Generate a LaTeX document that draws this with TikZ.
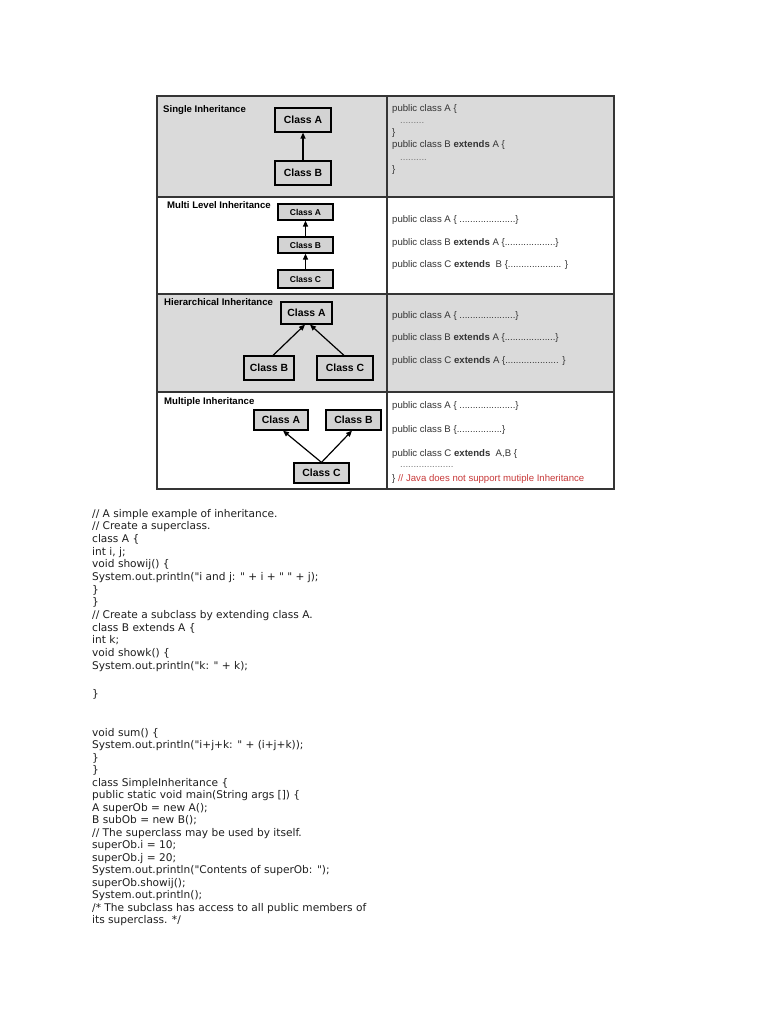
\documentclass[tikz,border=0pt]{standalone}
\usepackage{fontspec}
\setmainfont{Liberation Sans}
\newfontfamily\codefont{DejaVu Sans}
\usetikzlibrary{arrows.meta,calc}
\definecolor{rowgray}{HTML}{DADADA}
\definecolor{boxgray}{HTML}{D3D3D3}
\definecolor{framecol}{HTML}{353535}
\definecolor{txt}{HTML}{333333}
\definecolor{dotcol}{HTML}{777777}
\definecolor{warn}{HTML}{C83A3A}
\definecolor{codetxt}{HTML}{1E1E1E}
\begin{document}
\begin{tikzpicture}[x=1pt,y=-1pt,
  cls/.style={draw=black,line width=1.2pt,fill=boxgray,font=\bfseries\fontsize{10.4}{12}\selectfont,inner sep=0pt},
  clss/.style={cls,font=\bfseries\fontsize{8.5}{10}\selectfont},
  inh/.style={line width=1.2pt,-{Triangle[length=6pt,width=5pt]}},
  lab/.style={font=\bfseries\fontsize{9.6}{11}\selectfont,anchor=base west,inner sep=0pt},
  src/.style={font=\fontsize{9.6}{11}\selectfont,text=txt,anchor=base west,inner sep=0pt},
  dotline/.style={font=\fontsize{9.6}{11}\selectfont,text=dotcol,anchor=base west,inner sep=0pt},
  code/.style={font=\codefont\fontsize{10.6}{12.6}\selectfont,text=codetxt,anchor=base west,inner sep=0pt}]
\useasboundingbox (0,0) rectangle (768,1024);
\fill[white] (0,0) rectangle (768,1024);

% table
\fill[rowgray] (157,96) rectangle (614,197);
\fill[rowgray] (157,294) rectangle (614,392);
\draw[framecol,line width=1.4pt] (157,96) rectangle (614,489);
\draw[framecol,line width=1.4pt] (157,197) -- (614,197) (157,294) -- (614,294) (157,392) -- (614,392) (387,96) -- (387,489);

% row 1
\node[lab] (l1) at (163,112.5) {Single Inheritance};
\node[cls,minimum width=56pt,minimum height=24pt] (s1A) at (303,120) {Class A};
\node[cls,minimum width=56pt,minimum height=24pt] (s1B) at (303,173) {Class B};
\draw[inh] (s1B) -- (s1A);
\node[src] (r1a) at (392,112) {public class A \{};
\node[dotline] (r1b) at (400,124) {.........};
\node[src] (r1c) at (392,135.5) {\}};
\node[src] (r1d) at (392,148) {public class B \textbf{extends} A \{};
\node[dotline] (r1e) at (400,161) {..........};
\node[src] (r1f) at (392,173) {\}};

% row 2
\node[lab] (l2) at (167,208.5) {Multi Level Inheritance};
\node[clss,minimum width=55pt,minimum height=16pt] (m2A) at (305.5,212) {Class A};
\node[clss,minimum width=55pt,minimum height=16pt] (m2B) at (305.5,245) {Class B};
\node[clss,minimum width=55pt,minimum height=18pt] (m2C) at (305.5,279) {Class C};
\draw[inh] (m2B) -- (m2A);
\draw[inh] (m2C) -- (m2B);
\node[src] (r2a) at (392,222.5) {public class A \{ .....................\}};
\node[src] (r2b) at (392,245.5) {public class B \textbf{extends} A \{...................\}};
\node[src] (r2c) at (392,267.5) {public class C \textbf{extends}\ \ B \{.................... \}};

% row 3
\node[lab] (l3) at (164,305.5) {Hierarchical Inheritance};
\node[cls,minimum width=51pt,minimum height=22pt] (h3A) at (306.5,313) {Class A};
\node[cls,minimum width=50pt,minimum height=24pt] (h3B) at (269,368) {Class B};
\node[cls,minimum width=56pt,minimum height=24pt] (h3C) at (345,368) {Class C};
\draw[inh] ($(h3B.north)+(4,0)$) -- ($(h3A.south)+(-1.5,0)$);
\draw[inh] ($(h3C.north)+(-1,0)$) -- ($(h3A.south)+(3.5,0)$);
\node[src] (r3a) at (392,318.5) {public class A \{ .....................\}};
\node[src] (r3b) at (392,340.5) {public class B \textbf{extends} A \{...................\}};
\node[src] (r3c) at (392,363.5) {public class C \textbf{extends} A \{.................... \}};

% row 4
\node[lab] (l4) at (164,404) {Multiple Inheritance};
\node[cls,minimum width=54pt,minimum height=20pt] (p4A) at (281,420) {Class A};
\node[cls,minimum width=55pt,minimum height=20pt] (p4B) at (353.5,420) {Class B};
\node[cls,minimum width=55pt,minimum height=20pt] (p4C) at (321.5,473) {Class C};
\draw[inh] (p4C.north) -- ($(p4A.south)+(2,0)$);
\draw[inh] (p4C.north) -- ($(p4B.south)+(-1.5,0)$);
\node[src] (r4a) at (392,408.5) {public class A \{ .....................\}};
\node[src] (r4b) at (392,432.5) {public class B \{.................\}};
\node[src] (r4c) at (392,456.5) {public class C \textbf{extends}\ \ A,B \{};
\node[dotline] (r4d) at (400,467) {....................};
\node[src] (r4e) at (392,481.5) {\} {\color{warn}// Java does not support mutiple Inheritance}};

% code listing
\foreach \txt [count=\i] in {
 {// A simple example of inheritance.},
 {// Create a superclass.},
 {class A \{},
 {int i, j;},
 {void showij() \{},
 {System.out.println("i and j: " + i + " " + j);},
 {\}},
 {\}},
 {// Create a subclass by extending class A.},
 {class B extends A \{},
 {int k;},
 {void showk() \{},
 {System.out.println("k: " + k);}}
 {\node[code] (ca\i) at (92,{517+(\i-1)*12.67}) {\txt};}
\node[code] (cb) at (92,697) {\}};
\foreach \txt [count=\i] in {
 {void sum() \{},
 {System.out.println("i+j+k: " + (i+j+k));},
 {\}},
 {\}},
 {class SimpleInheritance \{},
 {public static void main(String args []) \{},
 {A superOb = new A();},
 {B subOb = new B();},
 {// The superclass may be used by itself.},
 {superOb.i = 10;},
 {superOb.j = 20;},
 {System.out.println("Contents of superOb: ");},
 {superOb.showij();},
 {System.out.println();},
 {/* The subclass has access to all public members of},
 {its superclass. */}}
 {\node[code] (cc\i) at (92,{736+(\i-1)*12.5}) {\txt};}
\end{tikzpicture}
\end{document}
